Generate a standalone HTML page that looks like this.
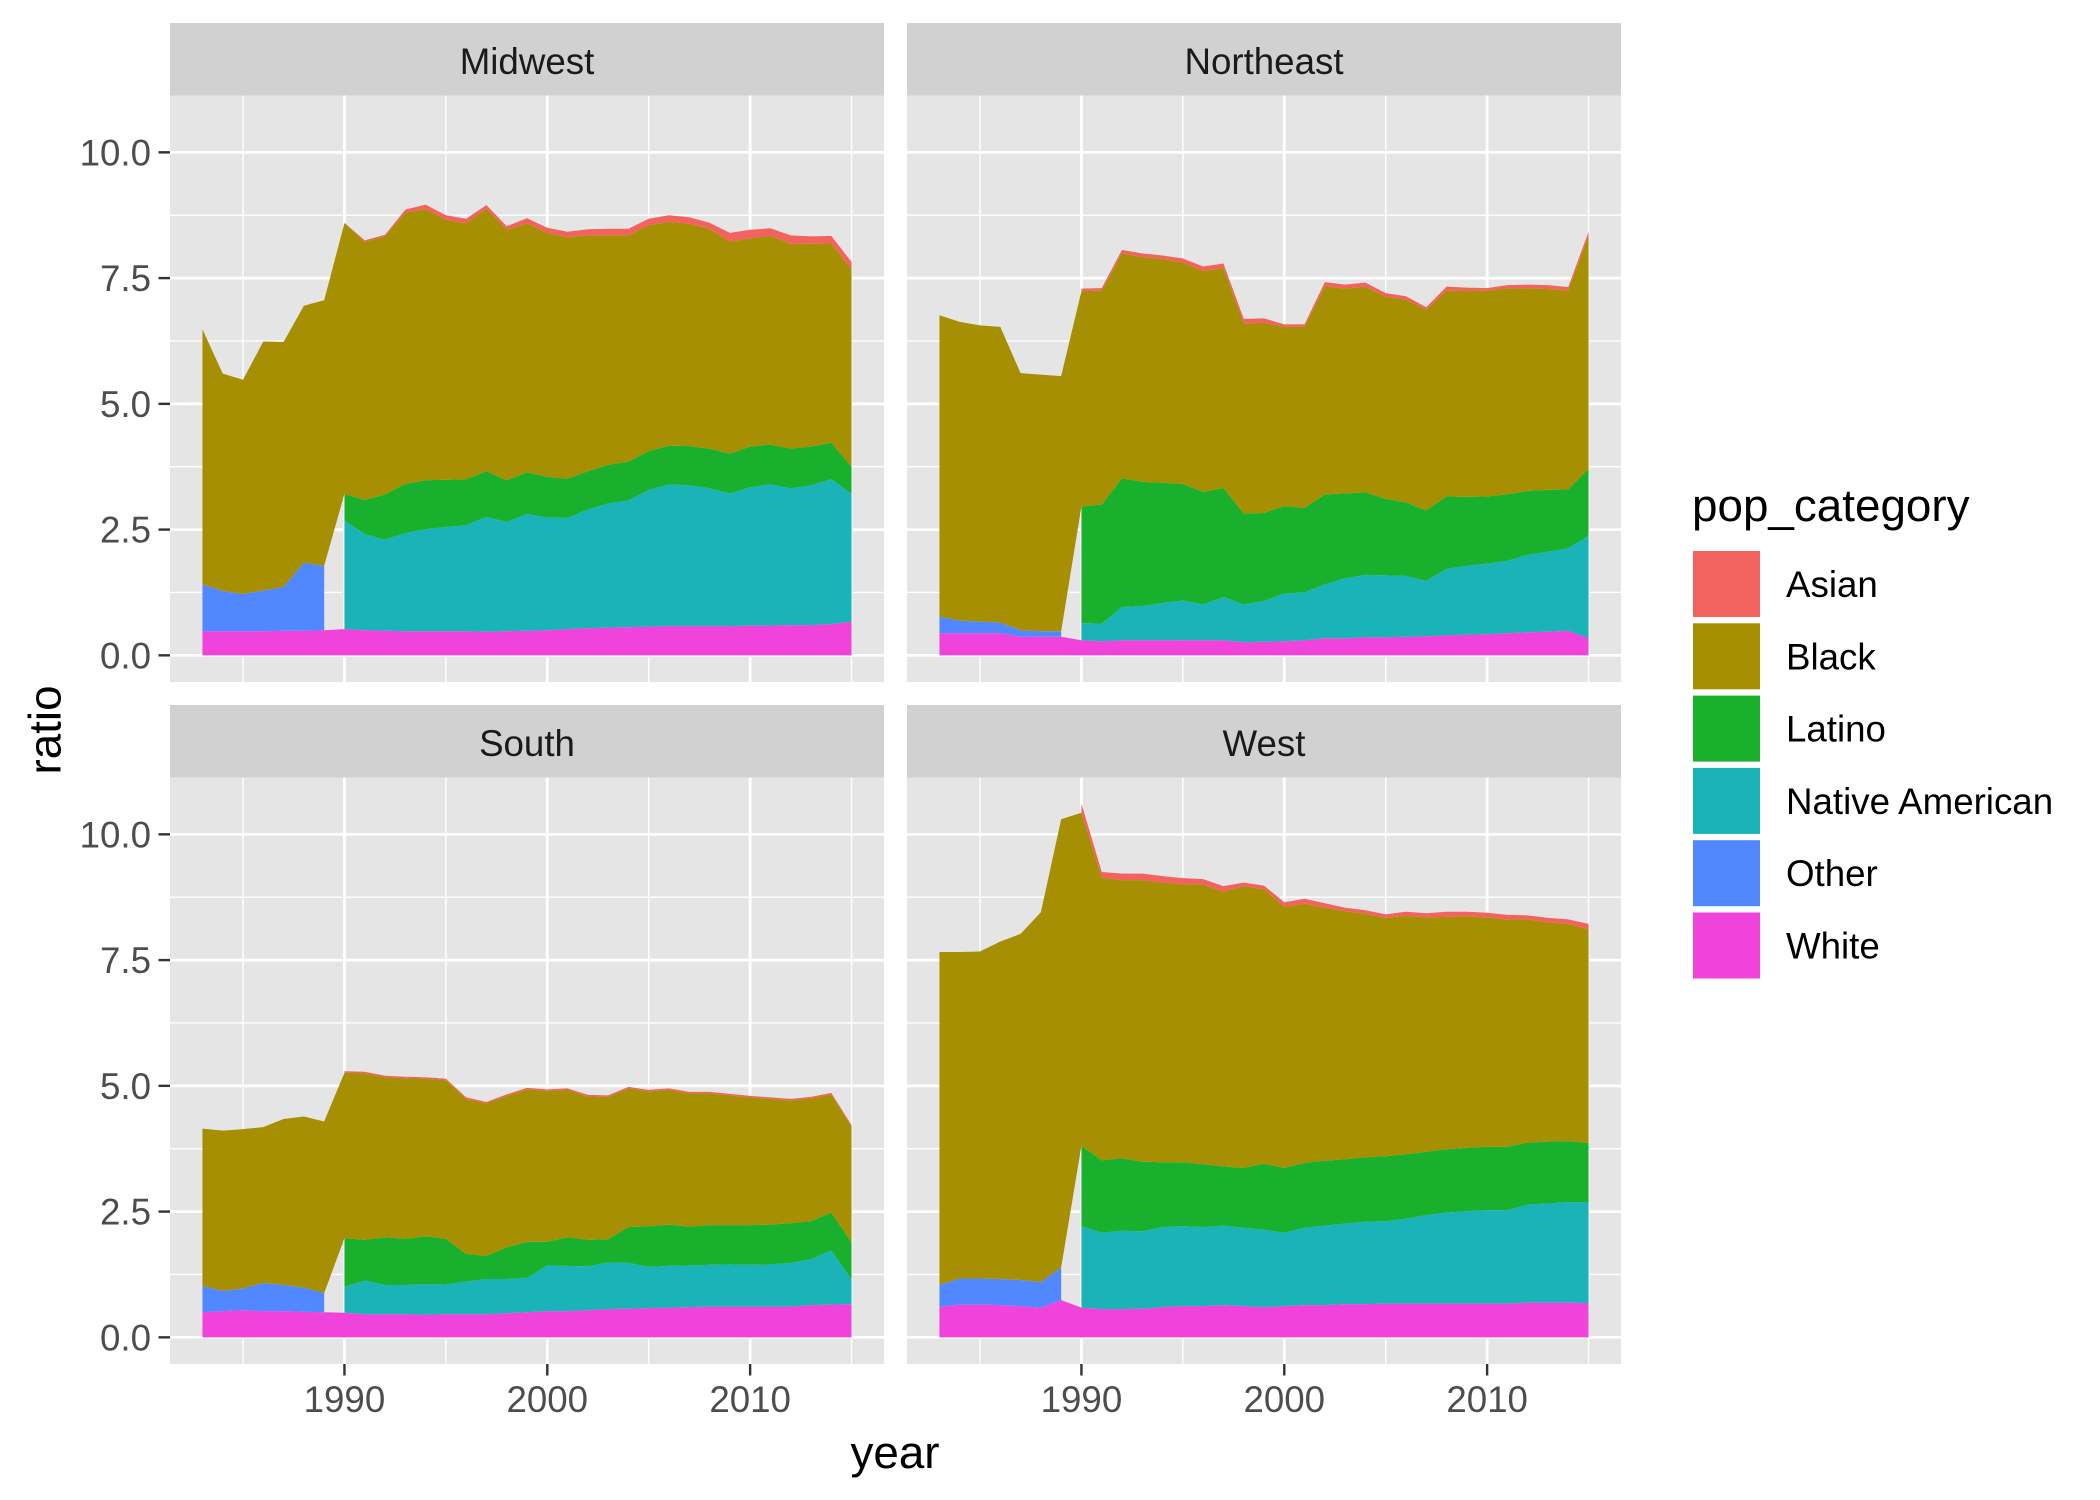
<!DOCTYPE html>
<html><head><meta charset="utf-8"><style>
html,body{margin:0;padding:0;background:#fff;}
svg{display:block;font-family:"Liberation Sans",Arial,sans-serif;}
</style></head><body>
<svg id="chart" width="2100" height="1500" viewBox="0 0 2100 1500" xmlns="http://www.w3.org/2000/svg">
<rect x="0" y="0" width="2100" height="1500" fill="#fff"/>
<text x="45" y="730" transform="rotate(-90 45 730)" text-anchor="middle" dominant-baseline="central" font-size="45.8" fill="#000">ratio</text>
<text x="895" y="1468" text-anchor="middle" font-size="45.8" fill="#000">year</text>
<g id="legend">
<text x="1692" y="521" font-size="45.8" fill="#000">pop_category</text>
</g>
</svg>
<script>
const years = [];
for (let y = 1983; y <= 2015; y++) years.push(y);
const categories = ["Asian","Black","Latino","Native American","Other","White"];
const stackOrder = ["White","Other","Native American","Latino","Black","Asian"];
const colors = {"Asian":"#F2625E","Black":"#A68F02","Latino":"#19B02E","Native American":"#19B3B8","Other":"#5288FF","White":"#EF43DB"};
const regions = ["Midwest","Northeast","South","West"];
const yTicks = [0, 2.5, 5, 7.5, 10];
const yTickLabels = ["0.0","2.5","5.0","7.5","10.0"];
const xTicks = [1990, 2000, 2010];
const xTickLabels = ["1990","2000","2010"];
const N7 = [null,null,null,null,null,null,null];
const N26 = new Array(26).fill(null);

// Midwest
const mwWhite = [0.48,0.48,0.48,0.48,0.49,0.49,0.50, 0.52,0.50,0.49,0.48,0.48,0.48,0.48,0.47,0.48,0.49,0.50,0.52,0.54,0.55,0.56,0.57,0.58,0.58,0.58,0.58,0.59,0.59,0.60,0.60,0.62,0.67];
const mwOther = [0.93,0.80,0.74,0.81,0.87,1.35,1.28].concat(N26);
const mwNative = N7.concat([2.16,1.91,1.81,1.95,2.03,2.07,2.11,2.28,2.17,2.32,2.24,2.21,2.36,2.47,2.52,2.72,2.82,2.80,2.74,2.64,2.75,2.81,2.72,2.78,2.88,2.54]);
const mwLatino = N7.concat([0.53,0.68,0.90,0.98,0.97,0.94,0.91,0.91,0.83,0.83,0.81,0.78,0.76,0.77,0.77,0.77,0.77,0.78,0.79,0.79,0.81,0.79,0.79,0.77,0.73,0.54]);
const mwBlack = [5.07,4.32,4.26,4.95,4.87,5.11,5.28, 5.38,5.13,5.13,5.39,5.39,5.17,5.09,5.22,4.98,4.95,4.85,4.80,4.69,4.56,4.50,4.49,4.45,4.42,4.37,4.21,4.14,4.15,4.07,4.03,3.96,3.92];
const mwAsian = N7.concat([0.01,0.03,0.03,0.06,0.09,0.09,0.09,0.07,0.07,0.10,0.10,0.11,0.12,0.13,0.13,0.13,0.13,0.13,0.12,0.18,0.17,0.15,0.17,0.15,0.15,0.15]);

// Northeast
const neWhite = [0.44,0.44,0.44,0.44,0.37,0.37,0.37, 0.30,0.28,0.30,0.30,0.30,0.30,0.30,0.30,0.26,0.27,0.28,0.30,0.34,0.34,0.36,0.36,0.37,0.38,0.40,0.41,0.42,0.44,0.46,0.47,0.49,0.34];
const neOther = [0.33,0.25,0.23,0.21,0.13,0.11,0.11].concat(N26);
const neNative = N7.concat([0.34,0.35,0.66,0.68,0.74,0.79,0.71,0.86,0.75,0.81,0.95,0.95,1.07,1.19,1.24,1.23,1.21,1.10,1.32,1.37,1.40,1.44,1.54,1.59,1.64,2.04]);
const neLatino = N7.concat([2.32,2.37,2.56,2.47,2.39,2.32,2.24,2.17,1.81,1.75,1.74,1.68,1.79,1.69,1.64,1.52,1.46,1.40,1.44,1.37,1.34,1.32,1.27,1.23,1.17,1.33]);
const neBlack = [5.99,5.94,5.89,5.88,5.11,5.10,5.07, 4.28,4.25,4.47,4.47,4.45,4.40,4.39,4.37,3.78,3.78,3.56,3.60,4.14,4.07,4.09,4.02,4.03,3.99,4.09,4.09,4.09,4.09,4.03,3.99,3.95,4.64];
const neAsian = N7.concat([0.05,0.05,0.07,0.07,0.07,0.08,0.09,0.09,0.09,0.09,0.05,0.05,0.08,0.08,0.08,0.07,0.07,0.05,0.08,0.07,0.05,0.07,0.07,0.08,0.07,0.07]);

// South
const soWhite = [0.50,0.52,0.54,0.52,0.52,0.51,0.50, 0.49,0.46,0.46,0.46,0.45,0.46,0.46,0.46,0.48,0.50,0.52,0.52,0.54,0.56,0.57,0.58,0.59,0.60,0.61,0.61,0.61,0.61,0.61,0.64,0.65,0.66];
const soOther = [0.52,0.40,0.43,0.56,0.52,0.48,0.38].concat(N26);
const soNative = N7.concat([0.51,0.67,0.58,0.58,0.61,0.59,0.65,0.70,0.68,0.68,0.91,0.90,0.87,0.93,0.91,0.82,0.83,0.83,0.83,0.84,0.83,0.84,0.87,0.91,1.08,0.49]);
const soLatino = N7.concat([0.97,0.81,0.95,0.92,0.95,0.91,0.55,0.46,0.63,0.72,0.47,0.57,0.53,0.46,0.71,0.81,0.82,0.77,0.79,0.78,0.79,0.79,0.79,0.76,0.75,0.74]);
const soBlack = [3.13,3.19,3.17,3.10,3.30,3.40,3.41, 3.29,3.31,3.18,3.19,3.13,3.15,3.08,3.03,3.01,3.03,3.00,2.93,2.85,2.83,2.76,2.68,2.68,2.65,2.62,2.58,2.54,2.50,2.44,2.44,2.35,2.30];
const soAsian = N7.concat([0.03,0.03,0.03,0.03,0.03,0.03,0.03,0.03,0.03,0.03,0.03,0.03,0.03,0.03,0.03,0.03,0.03,0.03,0.03,0.03,0.03,0.03,0.03,0.03,0.03,0.03]);

// West
const weWhite = [0.61,0.65,0.65,0.64,0.62,0.59,0.74, 0.59,0.56,0.56,0.57,0.60,0.62,0.62,0.64,0.62,0.60,0.62,0.64,0.64,0.66,0.66,0.67,0.67,0.67,0.67,0.67,0.67,0.67,0.69,0.69,0.69,0.68];
const weOther = [0.43,0.52,0.52,0.52,0.52,0.51,0.65].concat(N26);
const weNative = N7.concat([1.62,1.52,1.56,1.54,1.59,1.59,1.57,1.58,1.56,1.54,1.46,1.54,1.58,1.60,1.64,1.64,1.69,1.76,1.81,1.84,1.86,1.86,1.95,1.97,2.00,2.00]);
const weLatino = N7.concat([1.60,1.44,1.44,1.38,1.29,1.27,1.25,1.18,1.19,1.31,1.29,1.29,1.29,1.28,1.28,1.29,1.28,1.26,1.26,1.26,1.26,1.26,1.23,1.23,1.21,1.18]);
const weBlack = [6.62,6.49,6.50,6.71,6.88,7.35,8.91, 6.62,5.62,5.53,5.60,5.56,5.53,5.56,5.46,5.60,5.46,5.19,5.15,5.03,4.93,4.84,4.74,4.74,4.66,4.62,4.60,4.56,4.52,4.44,4.36,4.32,4.25];
const weAsian = N7.concat([0.18,0.11,0.13,0.13,0.13,0.12,0.11,0.11,0.07,0.07,0.09,0.10,0.09,0.07,0.07,0.07,0.08,0.08,0.10,0.09,0.09,0.09,0.08,0.09,0.09,0.11]);

const panelData = {
  "Midwest": {"White":mwWhite,"Other":mwOther,"Native American":mwNative,"Latino":mwLatino,"Black":mwBlack,"Asian":mwAsian},
  "Northeast": {"White":neWhite,"Other":neOther,"Native American":neNative,"Latino":neLatino,"Black":neBlack,"Asian":neAsian},
  "South": {"White":soWhite,"Other":soOther,"Native American":soNative,"Latino":soLatino,"Black":soBlack,"Asian":soAsian},
  "West": {"White":weWhite,"Other":weOther,"Native American":weNative,"Latino":weLatino,"Black":weBlack,"Asian":weAsian}
};

const NS = "http://www.w3.org/2000/svg";
const svg = document.getElementById("chart");
function mk(tag, attrs, parent){
  const e = document.createElementNS(NS, tag);
  for (const k in attrs) e.setAttribute(k, attrs[k]);
  (parent||svg).appendChild(e);
  return e;
}
const colX = [170, 907], panelW = 714;
const rowStrip = [23, 705], stripH = 72.5, panelH = 586.5;
const xMin = 1981.4, xMax = 2016.6, yMin = -0.53, yMax = 11.13;

regions.forEach((region, idx) => {
  const col = idx % 2, row = Math.floor(idx / 2);
  const px = colX[col], sy = rowStrip[row], py = sy + stripH;
  const sx = v => px + (v - xMin) / (xMax - xMin) * panelW;
  const syv = v => py + panelH - (v - yMin) / (yMax - yMin) * panelH;
  const g = mk("g", {});
  
  
  const strip = mk("rect", {x:px, y:sy, width:panelW, height:stripH, fill:"#D1D1D1"}, g);
  
  
  const st = mk("text", {x:px+panelW/2, y:sy+51, "text-anchor":"middle", "font-size":36.7, fill:"#1A1A1A"}, g);
  st.textContent = region;
  
  
  const bg = mk("rect", {x:px, y:py, width:panelW, height:panelH, fill:"#E5E5E5"}, g);
  
  
  [1.25,3.75,6.25,8.75].forEach(v => {
    const l = mk("line", {x1:px, x2:px+panelW, y1:syv(v), y2:syv(v), stroke:"#fff", "stroke-width":1.4}, g);
    
    
  });
  [1985,1995,2005,2015].forEach(v => {
    const l = mk("line", {x1:sx(v), x2:sx(v), y1:py, y2:py+panelH, stroke:"#fff", "stroke-width":1.4}, g);
    
    
  });
  yTicks.forEach(v => {
    const l = mk("line", {x1:px, x2:px+panelW, y1:syv(v), y2:syv(v), stroke:"#fff", "stroke-width":2.8}, g);
    
    
  });
  xTicks.forEach(v => {
    const l = mk("line", {x1:sx(v), x2:sx(v), y1:py, y2:py+panelH, stroke:"#fff", "stroke-width":2.8}, g);
    
    
  });
  const data = panelData[region];
  const base = years.map(() => 0);
  stackOrder.forEach(cat => {
    const vals = data[cat];
    const bottoms = base.slice();
    const tops = years.map((y, i) => vals[i] == null ? null : bottoms[i] + vals[i]);
    let i = 0;
    while (i < years.length) {
      if (tops[i] == null) { i++; continue; }
      let j = i;
      while (j + 1 < years.length && tops[j + 1] != null) j++;
      let d = "";
      for (let k = i; k <= j; k++) d += (k === i ? "M" : "L") + sx(years[k]).toFixed(2) + "," + syv(tops[k]).toFixed(2);
      for (let k = j; k >= i; k--) d += "L" + sx(years[k]).toFixed(2) + "," + syv(bottoms[k]).toFixed(2);
      d += "Z";
      const p = mk("path", {d: d, fill: colors[cat]}, g);
      
      
      i = j + 1;
    }
    years.forEach((y, k) => { if (vals[k] != null) base[k] += vals[k]; });
  });
  if (col === 0) {
    yTicks.forEach((v, k) => {
      const t = mk("line", {x1:px-11.5, x2:px, y1:syv(v), y2:syv(v), stroke:"#333", "stroke-width":2.4}, g);
      
      
      const tl = mk("text", {x:px-19, y:syv(v)+13, "text-anchor":"end", "font-size":36.7, fill:"#4D4D4D"}, g);
      tl.textContent = yTickLabels[k];
      
      
    });
  }
  if (row === 1) {
    xTicks.forEach((v, k) => {
      const t = mk("line", {x1:sx(v), x2:sx(v), y1:py+panelH, y2:py+panelH+11.5, stroke:"#333", "stroke-width":2.4}, g);
      
      
      const tl = mk("text", {x:sx(v), y:1412, "text-anchor":"middle", "font-size":36.7, fill:"#4D4D4D"}, g);
      tl.textContent = xTickLabels[k];
      
      
    });
  }
});

const legend = document.getElementById("legend");
categories.forEach((cat, i) => {
  const top = 551 + i * 72.3;
  const r = mk("rect", {x:1693, y:top, width:67, height:66, fill:colors[cat]}, legend);
  
  
  const t = mk("text", {x:1786, y:top + 46, "font-size":36.7, fill:"#000"}, legend);
  t.textContent = cat;
  
  
});
</script>
</body></html>
